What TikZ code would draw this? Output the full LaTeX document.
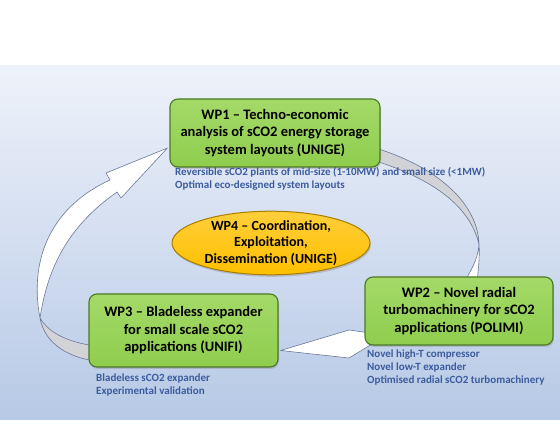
\documentclass[tikz,border=0pt]{standalone}
\usepackage{fontspec}
\setmainfont{Carlito}
\usetikzlibrary{shapes.geometric,shadows,calc}
\definecolor{bgtop}{HTML}{EEF2FA}
\definecolor{bgbot}{HTML}{B7C9E6}
\definecolor{boxfill}{HTML}{8FCD4E}
\definecolor{boxtop}{HTML}{A4DA68}
\definecolor{boxline}{HTML}{4A7A23}
\definecolor{ellfill}{HTML}{FFC000}
\definecolor{elltop}{HTML}{FFCE3A}
\definecolor{ellline}{HTML}{A87D00}
\definecolor{subtext}{HTML}{3C5C9E}
\definecolor{arrline}{HTML}{6A7898}
\definecolor{arrgray}{HTML}{D2D3D6}
\pgfdeclarelayer{bgl}
\pgfdeclarelayer{arr}
\pgfsetlayers{bgl,arr,main}
\begin{document}
\begin{tikzpicture}[x=1pt,y=-1pt,
  wpbox/.style={draw=boxline, line width=1.1pt, rounded corners=8pt,
    top color=boxtop, bottom color=boxfill, align=center,
    font=\fontsize{14.5}{17.5}\selectfont\bfseries, inner sep=0pt,
    drop shadow={opacity=0.35, shadow xshift=1pt, shadow yshift=-2pt}},
  coordell/.style={ellipse, draw=ellline, line width=1pt,
    top color=elltop, bottom color=ellfill, align=center,
    font=\fontsize{14}{16.5}\selectfont\bfseries, inner sep=0pt,
    drop shadow={opacity=0.35, shadow xshift=1pt, shadow yshift=-2pt}},
  note/.style={anchor=north west, align=left, text=subtext,
    font=\fontsize{11}{13}\selectfont\bfseries, inner sep=0pt},
  bandw/.style={fill=white, draw=arrline, line width=0.6pt, line join=round},
  bandg/.style={fill=arrgray, draw=arrline, line width=0.6pt, line join=round}]
\useasboundingbox (0,0) rectangle (560,427);
\begin{pgfonlayer}{bgl}
  \fill[white] (0,0) rectangle (560,427);
  \shade[top color=bgtop, bottom color=bgbot] (0,66) rectangle (560,420);
\end{pgfonlayer}

% boxes
\node[wpbox, minimum width=210pt, minimum height=68pt] (wp1) at (275,133)
  {WP1 -- Techno-economic\\analysis of sCO2 energy storage\\system layouts (UNIGE)};
\node[wpbox, minimum width=188pt, minimum height=68pt] (wp2) at (459,311)
  {WP2 -- Novel radial\\turbomachinery for sCO2\\applications (POLIMI)};
\node[wpbox, minimum width=189pt, minimum height=73pt] (wp3) at (183.5,330.5)
  {WP3 -- Bladeless expander\\for small scale sCO2\\applications (UNIFI)};
\node[coordell, minimum width=198pt, minimum height=60pt] (wp4) at (271,243)
  {WP4 -- Coordination,\\Exploitation,\\Dissemination (UNIGE)};

% notes
\node[note] (n1) at (175,167) {Reversible sCO2 plants of mid-size (1-10MW) and small size (<1MW)\\Optimal eco-designed system layouts};
\node[note] (n2) at (367,350) {Novel high-T compressor\\Novel low-T expander\\Optimised radial sCO2 turbomachinery};
\node[note] (n3) at (96,374) {Bladeless sCO2 expander\\Experimental validation};

% arrows
\begin{pgfonlayer}{arr}
  % WP1 -> WP2
  \coordinate (t1) at ($(wp2.north)+(20,-32)$);
  \draw[bandg] ($(wp1.east)+(-5,15)$) .. controls (440,168) and (478,205) .. (t1)
     .. controls (470,205) and (430,178) .. ($(wp1.east)+(-5,28)$) -- cycle;
  \draw[bandw] (t1) .. controls (478,260) and (470,272) .. ($(wp2.north)+(4,8)$)
     -- ($(wp2.north)+(18,8)$) .. controls (478,270) and (480,258) .. (t1) -- cycle;
  % WP2 -> WP3
  \draw[bandw] ($(wp3.east)+(2,20)$) -- (349,330) -- ($(wp2.west)+(6,22)$)
     -- ($(wp2.west)+(6,34)$) -- (349,358) -- cycle;
  % WP3 -> WP1
  \coordinate (t3) at (40,318);
  \draw[bandg] (t3) .. controls (45,345) and (70,358) .. ($(wp3.west)+(10,31)$)
     -- ($(wp3.west)+(10,16)$) .. controls (72,343) and (50,335) .. (t3) -- cycle;
  \draw[bandw] (t3) .. controls (28,255) and (55,205) .. (110,180) -- (106,173)
     -- ($(wp1.west)+(-2,15)$) -- (121,198) -- (117,192)
     .. controls (70,225) and (48,265) .. (t3) -- cycle;
\end{pgfonlayer}
\end{tikzpicture}
\end{document}
